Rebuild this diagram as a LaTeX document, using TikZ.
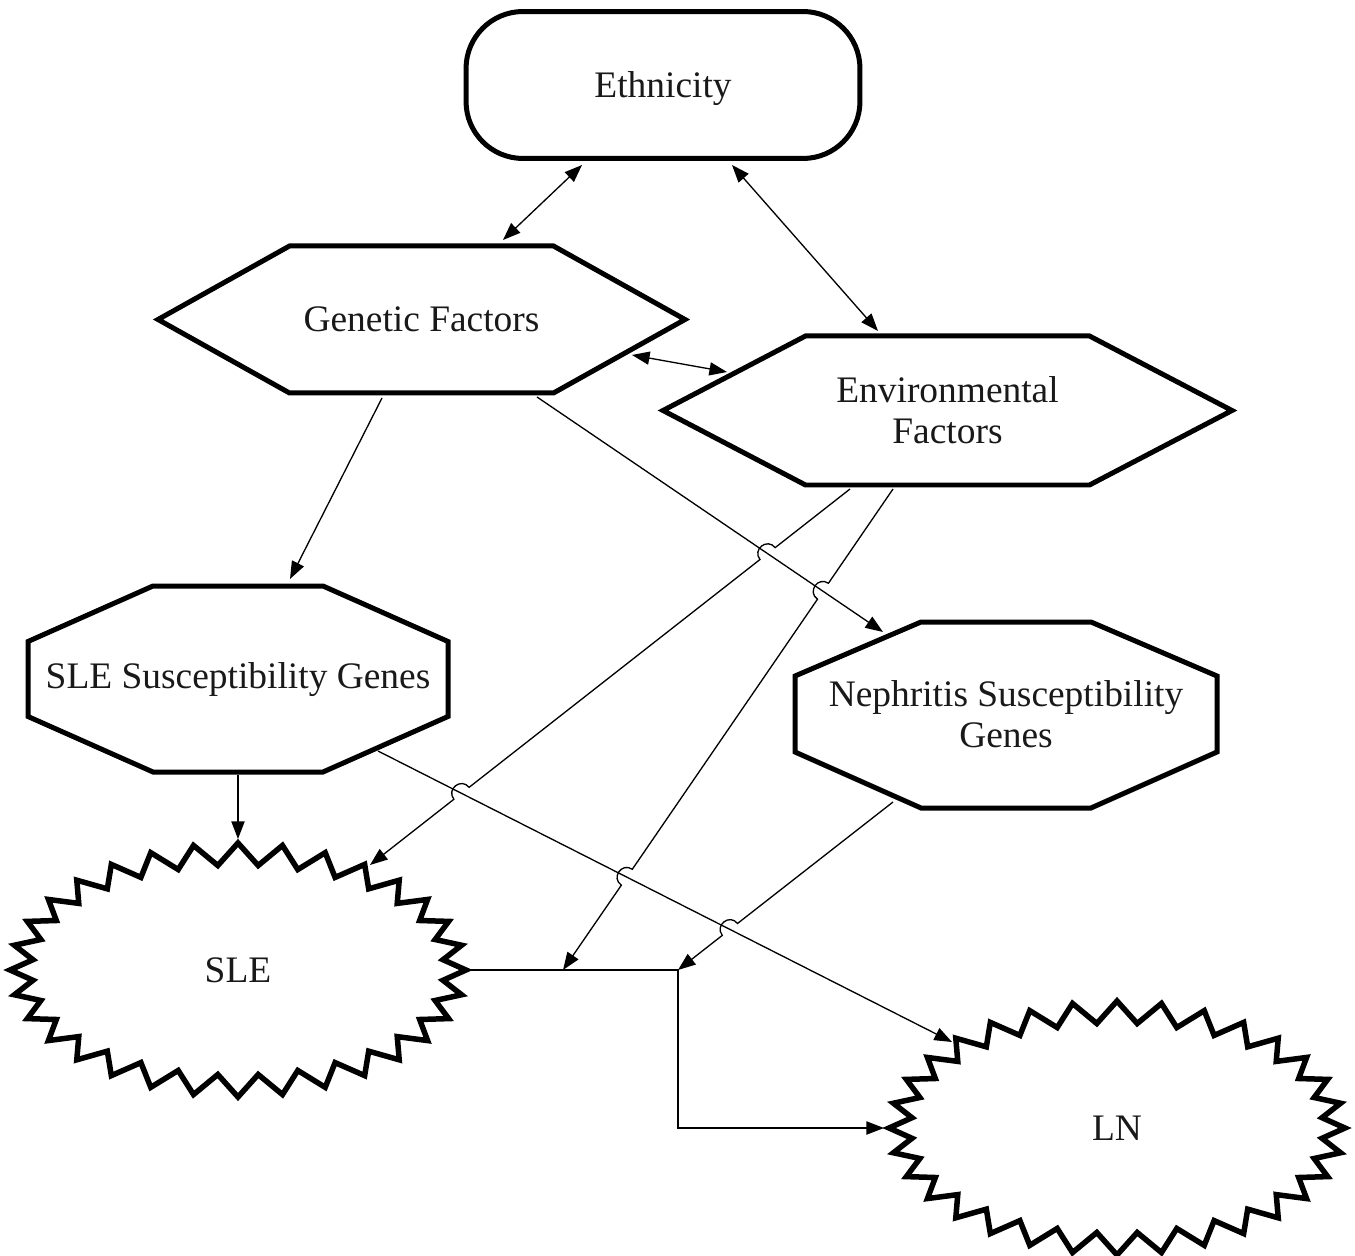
\documentclass[tikz,border=0pt]{standalone}
\usepackage{fontspec}
\setmainfont{Liberation Serif}
\usetikzlibrary{arrows.meta,calc}
\newcommand\mkhop[3]{% #1 crossing, #2 start, #3 end
  \coordinate (#1a) at ($(#1)!5.5pt!(#2)$);
  \coordinate (#1b) at ($(#1)!5.5pt!(#3)$);
  \coordinate (#1c) at ($(#1a)!7.3pt!-90:(#1)$);
  \coordinate (#1d) at ($(#1b)!7.3pt!90:(#1)$);
}
\begin{document}
\begin{tikzpicture}[x=0.02cm,y=-0.02cm,
  outline/.style={line width=0.1cm, line join=miter},
  burst/.style={line width=0.11cm, line join=miter},
  lbl/.style={font=\fontsize{21.3}{23.5}\selectfont, inner sep=0pt, align=center, text=black!90},
  conn/.style={line width=0.75pt},
  arr/.style={conn,-{Triangle[length=10pt,width=7.5pt]}},
  darr/.style={conn,{Triangle[length=10pt,width=7.5pt]}-{Triangle[length=10pt,width=7.5pt]}},
]
\useasboundingbox (0,0) rectangle (1355,1256);

% ---------- nodes ----------
\node[lbl, draw, outline, rounded corners=1.14cm, minimum width=7.88cm, minimum height=2.94cm, text depth=0pt] (eth) at (663,85) {Ethnicity};

\node[lbl, text depth=0pt] (gen) at (421.5,319.5) {Genetic Factors};
\draw[outline, shift={(gen)}] (-263.5,0) -- (-132,-73.5) -- (132,-73.5) -- (263.5,0) -- (132,73.5) -- (-132,73.5) -- cycle;

\node[lbl] (env) at (947.5,410.5) {Environmental\\Factors};
\draw[outline, shift={(env)}] (-284.5,0) -- (-142,-74.5) -- (142,-74.5) -- (284.5,0) -- (142,74.5) -- (-142,74.5) -- cycle;

\node[lbl] (sg) at (238,680) {SLE Susceptibility Genes};
\draw[outline, shift={(sg)}] (-85,-94) -- (85,-94) -- (210,-38.5) -- (210,36.5) -- (85,92) -- (-85,92) -- (-210,36.5) -- (-210,-38.5) -- cycle;

\node[lbl] (ng) at (1006,714) {Nephritis Susceptibility\\Genes};
\draw[outline, shift={(ng)}] (-85,-92) -- (85,-92) -- (211,-38) -- (211,38) -- (85,94) -- (-85,94) -- (-211,38) -- (-211,-38) -- cycle;

\node[lbl, text depth=0pt] (sle) at (238,970) {SLE};
\draw[burst, shift={(sle)}] plot[samples=65, domain=0:64]
  ({(217+11*cos(\x*180))*cos(\x*5.625)}, {(116+11*cos(\x*180))*sin(\x*5.625)}) -- cycle;

\node[lbl, text depth=0pt] (ln) at (1117,1128) {LN};
\draw[burst, shift={(ln)}] plot[samples=65, domain=0:64]
  ({(217+11*cos(\x*180))*cos(\x*5.625)}, {(116+11*cos(\x*180))*sin(\x*5.625)}) -- cycle;

% ---------- connector end points ----------
\coordinate (e1) at ($(eth)+(-81,80)$);
\coordinate (e2) at ($(eth)+(69,80)$);
\coordinate (g1) at ($(gen)+(81.5,-79.5)$);
\coordinate (g2) at ($(gen)+(210.5,35.5)$);
\coordinate (g3) at ($(gen)+(-39.5,78.5)$);
\coordinate (g4) at ($(gen)+(115.5,77.5)$);
\coordinate (v1) at ($(env)+(-69.5,-79.5)$);
\coordinate (v2) at ($(env)+(-220.5,-38.5)$);
\coordinate (v3) at ($(env)+(-97.5,78.5)$);
\coordinate (v4) at ($(env)+(-54.5,78.5)$);
\coordinate (s1) at ($(sg)+(52,-101)$);
\coordinate (s2) at ($(sg)+(0,95)$);
\coordinate (s3) at ($(sg)+(140,71)$);
\coordinate (n1) at ($(ng)+(-123,-82)$);
\coordinate (n2) at ($(ng)+(-113,88)$);
\coordinate (l1) at ($(sle)+(0,-131)$);
\coordinate (l2) at ($(sle)+(229,0)$);
\coordinate (l3) at ($(sle)+(132,-105)$);
\coordinate (m1) at ($(ln)+(-165,-86)$);
\coordinate (m2) at ($(ln)+(-233,0)$);
\coordinate (jc) at ($(sle)+(440,0)$);
\coordinate (j8) at ($(sle)+(325,0)$);

% ---------- crossings ----------
\coordinate (xa) at (intersection of v3--l3 and g4--n1);
\coordinate (xb) at (intersection of v3--l3 and s3--m1);
\coordinate (xc) at (intersection of v4--j8 and g4--n1);
\coordinate (xd) at (intersection of v4--j8 and s3--m1);
\coordinate (xe) at (intersection of n2--jc and s3--m1);
\mkhop{xa}{v3}{l3}
\mkhop{xb}{v3}{l3}
\mkhop{xc}{v4}{j8}
\mkhop{xd}{v4}{j8}
\mkhop{xe}{n2}{jc}

% ---------- connectors ----------
\draw[darr] (e1) -- (g1);
\draw[darr] (e2) -- (v1);
\draw[darr] (g2) -- (v2);
\draw[arr] (g3) -- (s1);
\draw[arr] (g4) -- (n1);
\draw[arr] (s2) -- (l1);
\draw[arr] (s3) -- (m1);
\draw[arr] (l2) -- (jc) |- (m2);
\draw[arr] (v3) -- (xaa) .. controls (xac) and (xad) .. (xab)
  -- (xba) .. controls (xbc) and (xbd) .. (xbb) -- (l3);
\draw[arr] (v4) -- (xca) .. controls (xcc) and (xcd) .. (xcb)
  -- (xda) .. controls (xdc) and (xdd) .. (xdb) -- (j8);
\draw[arr] (n2) -- (xea) .. controls (xec) and (xed) .. (xeb) -- (jc);
\end{tikzpicture}
\end{document}
